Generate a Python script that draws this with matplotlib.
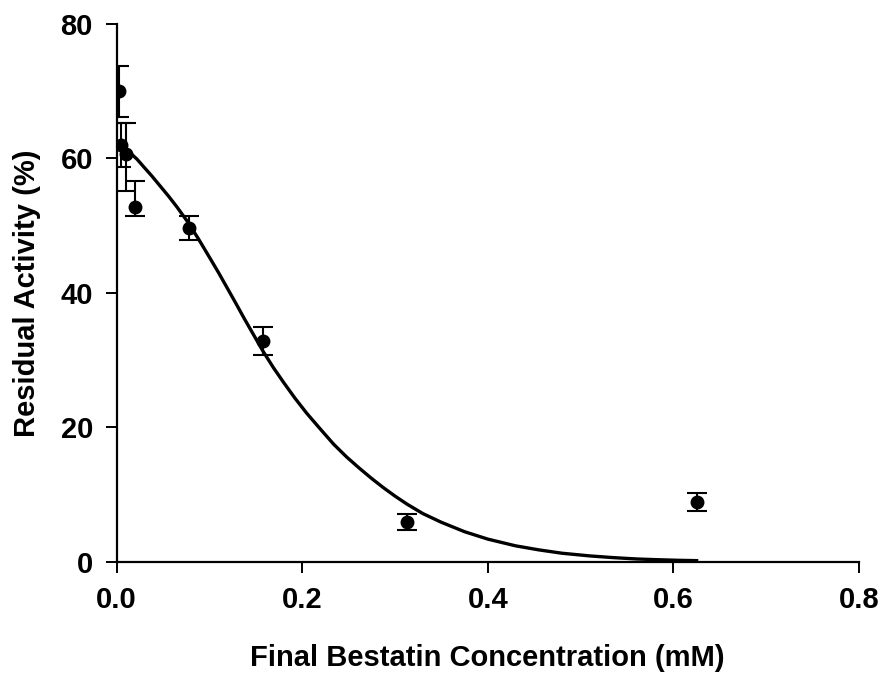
import matplotlib
matplotlib.use("Agg")
from matplotlib import pyplot as plt
import numpy as np

plt.rcParams["font.family"] = ["Liberation Sans", "DejaVu Sans"]
plt.rcParams["font.weight"] = "bold"

# measured points (final bestatin concentration, residual activity)
conc = [0.00244, 0.00488, 0.00977, 0.0195, 0.078, 0.1575, 0.3125, 0.625]
activity = [70.0, 62.0, 60.6, 52.8, 49.7, 32.8, 6.0, 8.9]
err_low = [3.8, 3.2, 5.5, 1.3, 1.75, 2.0, 1.2, 1.3]
err_high = [3.8, 3.2, 4.6, 3.9, 1.75, 2.1, 1.2, 1.3]

# fitted curve
fit_x = [0.0, 0.004, 0.010, 0.015, 0.022, 0.029, 0.038, 0.047, 0.056, 0.065,
         0.076, 0.088, 0.101, 0.110, 0.119, 0.128, 0.138, 0.148, 0.158, 0.169,
         0.180, 0.192, 0.205, 0.220, 0.234, 0.248, 0.262, 0.275, 0.288, 0.300,
         0.313, 0.330, 0.350, 0.375, 0.400, 0.430, 0.455, 0.480, 0.510, 0.535,
         0.560, 0.580, 0.605, 0.625]
fit_y = [62.4, 62.0, 61.4, 60.8, 59.9, 58.8, 57.4, 55.9, 54.4, 52.8,
         50.7, 48.1, 45.1, 43.0, 40.8, 38.6, 36.1, 33.7, 31.3, 28.9,
         26.7, 24.4, 22.1, 19.7, 17.5, 15.6, 13.9, 12.4, 11.0, 9.8,
         8.6, 7.2, 5.9, 4.5, 3.4, 2.4, 1.8, 1.3, 0.9, 0.65,
         0.45, 0.35, 0.25, 0.2]

x_ticks = [0.0, 0.2, 0.4, 0.6, 0.8]
y_ticks = [0, 20, 40, 60, 80]

fig = plt.figure(figsize=(8.91, 6.77), dpi=100)
ax = fig.add_axes([0.1308, 0.1699, 0.8333, 0.7947])

ax.plot(fit_x, fit_y, color="black", lw=2.4, solid_joinstyle="round", zorder=2)
ax.errorbar(conc, activity, yerr=[err_low, err_high], fmt="o", color="black",
            ms=9, ecolor="black", elinewidth=1.5, capsize=7, capthick=1.5, zorder=3)

ax.set_xlim(0, 0.8)
ax.set_ylim(0, 80)
ax.set_xticks(x_ticks)
ax.set_xticklabels(["%.1f" % t for t in x_ticks])
ax.set_yticks(y_ticks)

for s in ["top", "right"]:
    ax.spines[s].set_visible(False)
for s in ["left", "bottom"]:
    ax.spines[s].set_linewidth(1.6)

ax.tick_params(direction="out", length=8, width=1.4, labelsize=21, pad=9)
ax.set_xlabel("Final Bestatin Concentration (mM)", fontsize=21, fontweight="bold", labelpad=22)
ax.set_ylabel("Residual Activity (%)", fontsize=21, fontweight="bold", labelpad=14)

plt.savefig("out.png", dpi=100)
plt.close()
